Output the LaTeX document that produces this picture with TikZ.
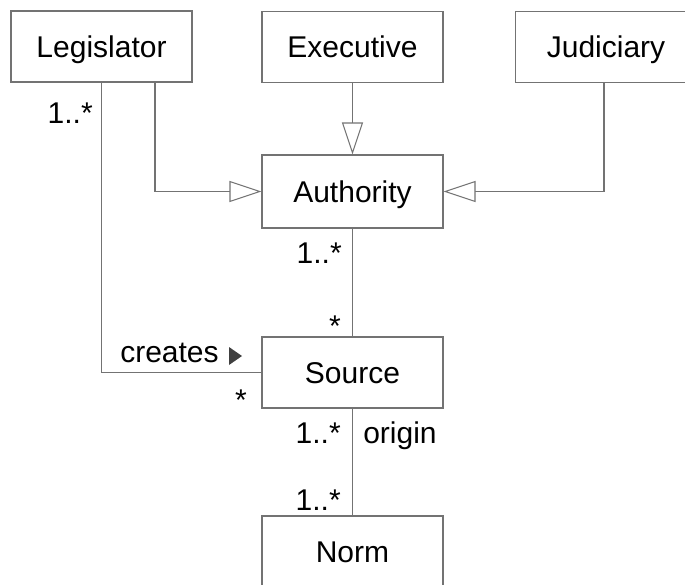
\documentclass[tikz,border=0pt]{standalone}
\usepackage{fontspec}
\setmainfont{Liberation Sans}
\usetikzlibrary{arrows.meta}
\begin{document}
\begin{tikzpicture}[x=0.75pt,y=-0.75pt,
  every node/.style={font=\fontsize{22.5pt}{27pt}\selectfont, text=black},
  classbox/.style={draw=black!55, line width=0.8pt, minimum width=135.75pt,
    minimum height=53.25pt, inner sep=0pt, fill=white,
    text height=16.1pt, text depth=0pt},
  link/.style={draw=black!55, line width=0.8pt},
  inherit/.style={link, -{Triangle[open, length=24pt, width=15.75pt, fill=white]}},
  mult/.style={inner sep=0pt}
]
\useasboundingbox (0,0) rectangle (685,585);

% classes
\node[classbox] (leg) at (101.5,46.5) {Legislator};
\node[classbox] (exe) at (352.5,47) {Executive};
\node[classbox] (jud) at (606,47) {Judiciary};
\node[classbox, minimum height=54.75pt] (aut) at (352.5,191.5) {Authority};
\node[classbox] (src) at (352.5,372.5) {Source};
\node[classbox] (nrm) at (352.5,551.5) {Norm};

% generalizations
\draw[inherit] (exe.south) -- (aut.north);
\draw[inherit] ([xshift=40.1pt]leg.south) |- (aut.west);
\draw[inherit] ([xshift=-1.5pt]jud.south) |- (aut.east);

% associations
\draw[link] (leg.south) |- (src.west);
\draw[link] (aut.south) -- (src.north);
\draw[link] (src.south) -- (nrm.north);

% multiplicities and role names
\node[mult, anchor=base east] (mLeg) at (93,123) {1..*};
\node[mult, anchor=base east] (mAut) at (342,263) {1..*};
\node[mult, anchor=base east] (mSrcA) at (341,336) {*};
\node[mult, anchor=base west] (cr) at (120,362) {creates};
\node[mult, anchor=base east] (mSrcL) at (247,410) {*};
\node[mult, anchor=base east] (mSrcN) at (341,443) {1..*};
\node[mult, anchor=base west] (orig) at (363,443) {origin};
\node[mult, anchor=base east] (mNrm) at (341,510) {1..*};

% reading direction of "creates"
\fill[black!75] (229,347) -- (242,356) -- (229,365) -- cycle;
\end{tikzpicture}
\end{document}
